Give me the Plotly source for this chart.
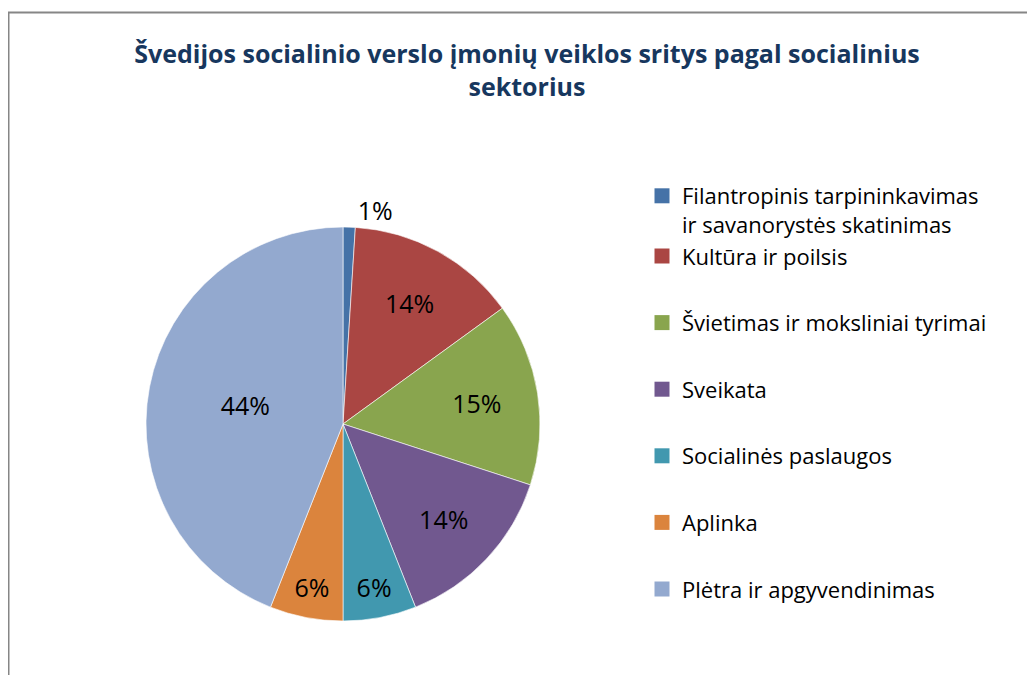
import plotly.graph_objects as go

labels = [
    'Filantropinis tarpininkavimas<br>ir savanorystės skatinimas',
    'Kultūra ir poilsis',
    'Švietimas ir moksliniai tyrimai',
    'Sveikata',
    'Socialinės paslaugos',
    'Aplinka',
    'Plėtra ir apgyvendinimas',
]
values = [1, 14, 15, 14, 6, 6, 44]
colors = ['#4572A7', '#AA4643', '#89A54E', '#71588F', '#4198AF', '#DB843D', '#93A9CF']
positions = ['outside', 'inside', 'inside', 'inside', 'inside', 'inside', 'inside']

W, H = 1035, 675
# the page body has an 8px margin, so figure coords = screen coords - 8
cx, cy, r = 335, 416, 197

fig = go.Figure()

fig.add_trace(go.Pie(
    labels=labels,
    values=values,
    text=[f'{v}%' for v in values],
    textinfo='text',
    textposition=positions,
    insidetextorientation='horizontal',
    textfont=dict(family='Open Sans', size=25, color='black'),
    marker=dict(colors=colors, line=dict(color='white', width=0.6)),
    sort=False,
    direction='clockwise',
    rotation=0,
    showlegend=False,
    domain=dict(x=[(cx - r) / W, (cx + r) / W], y=[(H - cy - r) / H, (H - cy + r) / H]),
))

# legend entries (one group each so the spacing can follow the original)
for i, (lab, col) in enumerate(zip(labels, colors)):
    fig.add_trace(go.Scatter(
        x=[None], y=[None], mode='markers',
        marker=dict(symbol='square', size=15, color=col),
        name=lab, legendgroup='g1' if i < 2 else f'g{i}',
        showlegend=True,
    ))

fig.update_layout(
    width=W, height=H,
    margin=dict(l=0, r=0, t=0, b=0),
    paper_bgcolor='white',
    plot_bgcolor='white',
    font=dict(family='Open Sans', color='black'),
    title=dict(
        text='Švedijos socialinio verslo įmonių veiklos sritys pagal socialinius<br>sektorius',
        x=519 / W, xanchor='center',
        y=1 - 55 / H, yanchor='top',
        font=dict(family='Open Sans', size=25, color='#17375E', weight='bold'),
    ),
    xaxis=dict(visible=False),
    yaxis=dict(visible=False),
    legend=dict(
        x=634 / W, xanchor='left',
        y=1 - 167 / H, yanchor='top',
        font=dict(family='Open Sans', size=22, color='black'),
        tracegroupgap=35,
        valign='top',
        bgcolor='rgba(0,0,0,0)',
    ),
    shapes=[dict(
        type='rect', xref='paper', yref='paper',
        x0=0.5 / W, x1=1.02, y0=-0.02, y1=1 - 4.5 / H,
        line=dict(color='#868686', width=2),
    )],
)

fig.write_html('out.html')
